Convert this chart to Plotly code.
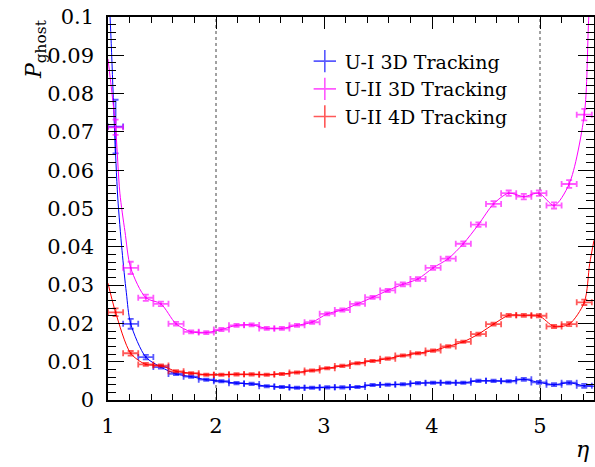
import plotly.graph_objects as go

# ---- data ----
eta = [1.07, 1.21, 1.35, 1.49, 1.63, 1.77, 1.91, 2.05, 2.19, 2.33, 2.47, 2.61,
       2.75, 2.89, 3.03, 3.17, 3.31, 3.45, 3.59, 3.73, 3.87, 4.01, 4.15, 4.29,
       4.43, 4.57, 4.71, 4.85, 4.99, 5.13, 5.27, 5.41]
eta_halfwidth = 0.07

ui3d = [0.0714, 0.0199, 0.0112, 0.0086, 0.0068, 0.0061, 0.0053, 0.0049, 0.0044, 0.0042,
        0.0036, 0.0034, 0.0032, 0.0032, 0.0033, 0.0033, 0.0034, 0.0039, 0.0040, 0.0041,
        0.0044, 0.0045, 0.0045, 0.0045, 0.0050, 0.0050, 0.0049, 0.0054, 0.0046, 0.0040,
        0.0045, 0.0037]
ui3d_err = [0.0070, 0.0013, 0.0006, 0.0004, 0.0003, 0.0003, 0.0003, 0.0003, 0.0003, 0.0003,
            0.0003, 0.0003, 0.0003, 0.0003, 0.0003, 0.0003, 0.0003, 0.0003, 0.0003, 0.0003,
            0.0003, 0.0003, 0.0003, 0.0003, 0.0003, 0.0003, 0.0003, 0.0004, 0.0004, 0.0004,
            0.0004, 0.0005]

uii3d = [0.0712, 0.0345, 0.0267, 0.0251, 0.0199, 0.0178, 0.0176, 0.0184, 0.0195, 0.0196,
         0.0187, 0.0187, 0.0195, 0.0203, 0.0225, 0.0235, 0.0251, 0.0268, 0.0286, 0.0302,
         0.0316, 0.0345, 0.0369, 0.0408, 0.0458, 0.0512, 0.0540, 0.0531, 0.0540, 0.0508,
         0.0564, 0.0745]
uii3d_err = [0.0020, 0.0016, 0.0008, 0.0006, 0.0005, 0.0004, 0.0004, 0.0004, 0.0004, 0.0004,
             0.0004, 0.0004, 0.0004, 0.0004, 0.0004, 0.0004, 0.0004, 0.0004, 0.0004, 0.0005,
             0.0005, 0.0005, 0.0005, 0.0006, 0.0006, 0.0007, 0.0007, 0.0007, 0.0007, 0.0008,
             0.0010, 0.0015]

uii4d = [0.0229, 0.0122, 0.0093, 0.0090, 0.0075, 0.0070, 0.0066, 0.0066, 0.0067, 0.0067,
         0.0066, 0.0068, 0.0072, 0.0077, 0.0083, 0.0089, 0.0096, 0.0102, 0.0108, 0.0116,
         0.0122, 0.0129, 0.0140, 0.0152, 0.0172, 0.0198, 0.0221, 0.0221, 0.0220, 0.0192,
         0.0198, 0.0255]
uii4d_err = [0.0010, 0.0006, 0.0004, 0.0003, 0.0003, 0.0003, 0.0003, 0.0003, 0.0003, 0.0003,
             0.0003, 0.0003, 0.0003, 0.0003, 0.0003, 0.0003, 0.0003, 0.0003, 0.0003, 0.0003,
             0.0003, 0.0003, 0.0003, 0.0003, 0.0004, 0.0004, 0.0004, 0.0004, 0.0004, 0.0004,
             0.0005, 0.0007]

# extra knots of the smooth curves beyond / between the points
ui3d_curve_head_x = [1.0, 1.03, 1.06, 1.09, 1.13, 1.17]
ui3d_curve_head_y = [0.112, 0.093, 0.071, 0.053, 0.039, 0.028]
ui3d_curve_tail_x = [5.5]
ui3d_curve_tail_y = [0.0036]

uii3d_curve_extra_x = [1.0, 1.11, 1.157, 5.45, 5.5]
uii3d_curve_extra_y = [0.089, 0.054, 0.044, 0.099, 0.125]

uii4d_curve_extra_x = [1.0, 5.46, 5.5]
uii4d_curve_extra_y = [0.0305, 0.0356, 0.0417]

names = ["U-I 3D Tracking", "U-II 3D Tracking", "U-II 4D Tracking"]
colors = ["#0000ff", "#ff00ff", "#ff0000"]
colors_soft = ["rgba(0,0,255,0.65)", "rgba(255,0,255,0.65)", "rgba(255,0,0,0.65)"]

y_ticks = [0, 0.01, 0.02, 0.03, 0.04, 0.05, 0.06, 0.07, 0.08, 0.09, 0.1]
y_ticktext = ["0", "0.01", "0.02", "0.03", "0.04", "0.05", "0.06", "0.07", "0.08", "0.09", "0.1"]
x_ticks = [1, 2, 3, 4, 5]
boundaries = [2, 5]

FONT = "DejaVu Serif"

# ---- build curves ----
c_ui3d = sorted(zip(ui3d_curve_head_x + eta[1:] + ui3d_curve_tail_x,
                    ui3d_curve_head_y + ui3d[1:] + ui3d_curve_tail_y))
c_uii3d = sorted(zip(uii3d_curve_extra_x + eta, uii3d_curve_extra_y + uii3d))
c_uii4d = sorted(zip(uii4d_curve_extra_x + eta, uii4d_curve_extra_y + uii4d))
curves = [c_ui3d, c_uii3d, c_uii4d]
series = [(ui3d, ui3d_err), (uii3d, uii3d_err), (uii4d, uii4d_err)]

fig = go.Figure()

for b in boundaries:
    fig.add_shape(type="line", x0=b, x1=b, y0=0, y1=0.1, xref="x", yref="y",
                  line=dict(color="#444444", width=1, dash="dot"), layer="below")

for i in range(3):
    cx = [p[0] for p in curves[i]]
    cy = [p[1] for p in curves[i]]
    fig.add_trace(go.Scatter(x=cx, y=cy, mode="lines",
                             line=dict(color=colors[i], width=1, shape="spline", smoothing=0.8),
                             showlegend=False, hoverinfo="skip"))
    vals, errs = series[i]
    fig.add_trace(go.Scatter(
        x=eta, y=vals, mode="markers",
        marker=dict(size=2, color=colors_soft[i]),
        error_x=dict(type="constant", value=eta_halfwidth, color=colors_soft[i], thickness=1.8, width=3),
        error_y=dict(type="data", array=errs, color=colors_soft[i], thickness=1.8, width=3),
        showlegend=False))

for i in range(3):
    fig.add_trace(go.Scatter(
        x=[None], y=[None], mode="markers", name=names[i],
        marker=dict(symbol="cross-thin", size=19, color=colors_soft[i],
                    line=dict(color=colors_soft[i], width=1.6))))

axis_common = dict(showline=True, linecolor="black", linewidth=1.5, mirror="ticks",
                   ticks="inside", tickcolor="black", tickwidth=1.2,
                   showgrid=False, zeroline=False, automargin=False,
                   tickfont=dict(family=FONT, size=21, color="black"))

fig.update_layout(
    width=595, height=467,
    margin=dict(l=108, r=1, t=17, b=67, autoexpand=False),
    paper_bgcolor="white", plot_bgcolor="white",
    font=dict(family=FONT, color="black"),
    xaxis=dict(range=[1, 5.5], tickvals=x_ticks, ticklen=12,
               minor=dict(dtick=0.2, ticks="inside", ticklen=6, tickcolor="black", tickwidth=1.2),
               ticklabelstandoff=6, **axis_common),
    yaxis=dict(range=[0, 0.1], tickvals=y_ticks, ticktext=y_ticktext, ticklen=16,
               minor=dict(dtick=0.002, ticks="inside", ticklen=8, tickcolor="black", tickwidth=1.2),
               ticklabelstandoff=8, **axis_common),
    legend=dict(x=0.405, y=0.934, xanchor="left", yanchor="top",
                bgcolor="rgba(0,0,0,0)", borderwidth=0,
                font=dict(family=FONT, size=19, color="black"),
                tracegroupgap=0, itemsizing="trace"),
    showlegend=True,
)

fig.add_annotation(text="<i>P</i><sub>ghost</sub>", xref="paper", yref="paper",
                   x=-0.15, y=1.0, xanchor="center", yanchor="top", textangle=-90,
                   showarrow=False, font=dict(family=FONT, size=22, color="black"))
fig.add_annotation(text="<i>η</i>", xref="paper", yref="paper",
                   x=0.977, y=-0.13, xanchor="center", yanchor="middle",
                   showarrow=False, font=dict(family=FONT, size=22, color="black"))

fig.write_html("out.html", config={"displayModeBar": False},
               post_script="document.body.style.margin='0px';document.body.style.overflow='hidden';")
